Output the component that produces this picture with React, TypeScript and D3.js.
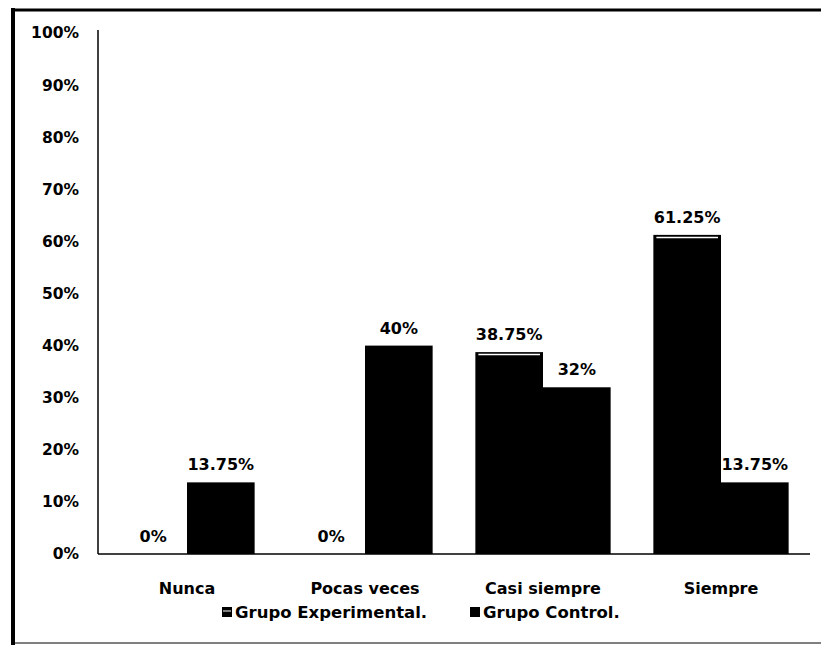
import * as d3 from "d3";

const categories = ["Nunca", "Pocas veces", "Casi siempre", "Siempre"];
const series = ["Grupo Experimental.", "Grupo Control."];
const experimental = [0, 0, 38.75, 61.25];
const control = [13.75, 40, 32, 13.75];
const valueLabels = [
  ["0%", "0%", "38.75%", "61.25%"],
  ["13.75%", "40%", "32%", "13.75%"],
];
const yTicks = [0, 10, 20, 30, 40, 50, 60, 70, 80, 90, 100];

const W = 821;
const H = 645;
const FONT = "'DejaVu Sans', sans-serif";

export default function App() {
  const left = 98;
  const right = 810;
  const top = 33;
  const bottom = 554;

  const x0 = d3
    .scaleBand()
    .domain(categories)
    .range([left, right])
    .paddingInner(0.24)
    .paddingOuter(0.12);
  const x1 = d3.scaleBand().domain(series).range([0, x0.bandwidth()]);
  const y = d3.scaleLinear().domain([0, 100]).range([bottom, top]);

  const data = [experimental, control];

  return (
    <svg
      width={W}
      height={H}
      style={{ position: "absolute", left: 0, top: 0, background: "#fff" }}
      fontFamily={FONT}
      fontWeight="bold"
    >
      {/* outer frame */}
      <rect x={0} y={0} width={W} height={H} fill="#fff" />
      <line x1={13} y1={8} x2={13} y2={H} stroke="#000" strokeWidth={4} />
      <line x1={11} y1={10} x2={W} y2={10} stroke="#000" strokeWidth={3} />
      <line x1={11} y1={643} x2={W} y2={643} stroke="#000" strokeWidth={1} />

      {/* y axis */}
      <line x1={left} y1={y(100) - 3} x2={left} y2={bottom} stroke="#000" strokeWidth={1.5} />
      {yTicks.map((t) => (
        <text
          key={t}
          x={79}
          y={y(t)}
          dy="0.35em"
          textAnchor="end"
          fontSize={15.5}
          fill="#000"
        >
          {t + "%"}
        </text>
      ))}

      {/* x axis */}
      <line x1={left} y1={bottom} x2={right} y2={bottom} stroke="#000" strokeWidth={1.5} />
      {categories.map((c) => (
        <text
          key={c}
          x={x0(c)! + x0.bandwidth() / 2}
          y={588}
          dy="0.35em"
          textAnchor="middle"
          fontSize={16}
          fill="#000"
        >
          {c}
        </text>
      ))}

      {/* bars */}
      {categories.map((c, i) => (
        <g key={c} transform={`translate(${x0(c)},0)`}>
          {series.map((s, k) => {
            const v = data[k][i];
            const bx = x1(s)!;
            const bw = x1.bandwidth();
            return (
              <g key={s}>
                {v > 0 && (
                  <rect x={bx} y={y(v)} width={bw} height={bottom - y(v)} fill="#000" />
                )}
                {k === 0 && v > 0 && (
                  <line
                    x1={bx + 3}
                    x2={bx + bw - 3}
                    y1={y(v) + 2.5}
                    y2={y(v) + 2.5}
                    stroke="#fff"
                    strokeWidth={1.5}
                  />
                )}
                <text
                  x={bx + bw / 2}
                  y={y(v) - 12}
                  textAnchor="middle"
                  fontSize={16}
                  fill="#000"
                >
                  {valueLabels[k][i]}
                </text>
              </g>
            );
          })}
        </g>
      ))}

      {/* legend */}
      {series.map((s, k) => {
        const lx = [222, 470][k];
        return (
          <g key={s} transform={`translate(${lx},612)`}>
            <rect x={0} y={-5} width={10} height={10} fill="#000" />
            {k === 0 && (
              <line x1={1} x2={9} y1={-1} y2={-1} stroke="#fff" strokeWidth={1} />
            )}
            <text x={13} y={0} dy="0.35em" fontSize={16.5} fill="#000">
              {s}
            </text>
          </g>
        );
      })}
    </svg>
  );
}
